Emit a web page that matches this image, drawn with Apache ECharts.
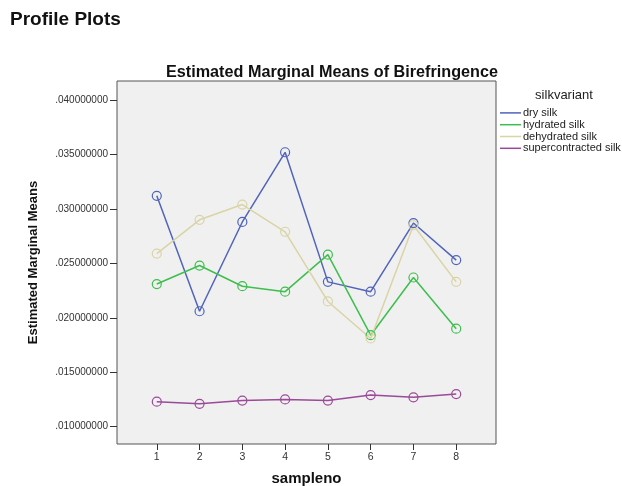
<!DOCTYPE html>
<html>
<head>
<meta charset="utf-8">
<script src="https://cdn.jsdelivr.net/npm/echarts@6/dist/echarts.min.js"></script>
<style>
  html, body { margin: 0; padding: 0; background: #ffffff; }
  #chart { width: 622px; height: 486px; }
</style>
</head>
<body>
<div id="chart"></div>
<script>
// Sample numbers on the horizontal axis
const samples = [1, 2, 3, 4, 5, 6, 7, 8];

// Estimated marginal means of birefringence per silk variant
const drySilk        = [0.0312, 0.0206, 0.0288, 0.0352, 0.0233, 0.0224, 0.0287, 0.0253];
const hydratedSilk   = [0.0231, 0.0248, 0.0229, 0.0224, 0.0258, 0.0184, 0.0237, 0.0190];
const dehydratedSilk = [0.0259, 0.0290, 0.0304, 0.0279, 0.0215, 0.0181, 0.0285, 0.0233];
const superSilk      = [0.0123, 0.0121, 0.0124, 0.0125, 0.0124, 0.0129, 0.0127, 0.0130];

// Tick values for the value axis
const yTicks = [0.010, 0.015, 0.020, 0.025, 0.030, 0.035, 0.040];

const variants = [
  { name: 'dry silk',             values: drySilk,        color: '#5064BA' },
  { name: 'hydrated silk',        values: hydratedSilk,   color: '#3DBE4D' },
  { name: 'dehydrated silk',      values: dehydratedSilk, color: '#D9D4A6' },
  { name: 'supercontracted silk', values: superSilk,      color: '#9A4A98' }
];

const FONT = '"Liberation Sans", Arial, sans-serif';

const chart = echarts.init(document.getElementById('chart'), null, { renderer: 'canvas' });

chart.setOption({
  animation: false,
  backgroundColor: '#ffffff',
  textStyle: { fontFamily: FONT },
  title: [
    {
      text: 'Profile Plots',
      left: 5, top: 5,
      textStyle: { fontFamily: FONT, fontSize: 19, fontWeight: 'bold', color: '#111' }
    },
    {
      text: 'Estimated Marginal Means of Birefringence',
      left: 327, top: 60, textAlign: 'center',
      textStyle: { fontFamily: FONT, fontSize: 16.2, fontWeight: 'bold', color: '#111' }
    },
    {
      text: 'silkvariant',
      left: 559, top: 84, textAlign: 'center',
      textStyle: { fontFamily: FONT, fontSize: 13, fontWeight: 'normal', color: '#222' }
    }
  ],
  legend: {
    orient: 'vertical',
    left: 495, top: 102,
    itemWidth: 21, itemHeight: 1.5, itemGap: 0,
    icon: 'rect',
    textStyle: { fontFamily: FONT, fontSize: 11, lineHeight: 11.8, color: '#222', padding: [0, 0, 0, -3] },
    data: variants.map(v => ({ name: v.name, itemStyle: { color: v.color, borderWidth: 0 } }))
  },
  grid: {
    left: 117, top: 81, right: 126, bottom: 42,
    outerBoundsMode: 'none',
    show: true,
    backgroundColor: '#F0F0F0',
    borderColor: '#555555',
    borderWidth: 1
  },
  xAxis: {
    type: 'value',
    min: 0.07, max: 8.93,
    name: 'sampleno',
    nameLocation: 'middle',
    nameGap: 27,
    nameTextStyle: { fontFamily: FONT, fontSize: 15, fontWeight: 'bold', color: '#111' },
    axisLine: { show: false },
    splitLine: { show: false },
    axisTick: { show: true, customValues: samples, length: 6, lineStyle: { color: '#333' } },
    axisLabel: { customValues: samples, fontSize: 10.5, color: '#333', margin: 8 }
  },
  yAxis: {
    type: 'value',
    min: 0.008411, max: 0.041745,
    name: 'Estimated Marginal Means',
    nameLocation: 'middle',
    nameGap: 77,
    nameTextStyle: { fontFamily: FONT, fontSize: 13, fontWeight: 'bold', color: '#111' },
    axisLine: { show: false },
    splitLine: { show: false },
    axisTick: { show: true, customValues: yTicks, length: 7, lineStyle: { color: '#333' } },
    axisLabel: {
      customValues: yTicks,
      fontSize: 10, color: '#333', margin: 9,
      formatter: v => '.' + v.toFixed(9).slice(2)
    }
  },
  series: variants.map(v => ({
    name: v.name,
    type: 'line',
    data: samples.map((s, i) => [s, v.values[i]]),
    symbol: 'circle',
    symbolSize: 9,
    showSymbol: true,
    lineStyle: { color: v.color, width: 1.5 },
    itemStyle: { color: 'rgba(0,0,0,0)', borderColor: v.color, borderWidth: 1.2 },
    emphasis: { disabled: true }
  }))
});
</script>
</body>
</html>
